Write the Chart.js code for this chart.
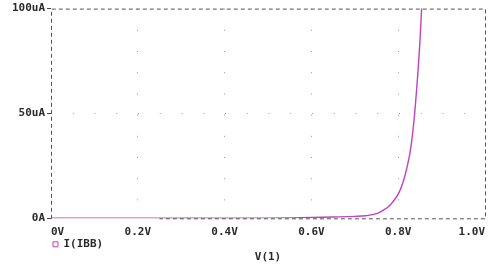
<!DOCTYPE html>
<html>
<head>
<meta charset="utf-8">
<script src="https://cdn.jsdelivr.net/npm/chart.js@4"></script>
<style>
  body { margin: 0; background: #fff; }
  #wrap { width: 492px; height: 269px; position: relative; }
</style>
</head>
<body>
<div id="wrap"><canvas id="diodeChart"></canvas></div>
<script>
// courbe : V(1) en volts, I(IBB) en uA
const voltage = [0, 0.1, 0.2, 0.3, 0.4, 0.5, 0.55, 0.6, 0.65, 0.7, 0.725, 0.75, 0.765, 0.78, 0.79, 0.8, 0.81, 0.82, 0.83, 0.84, 0.85, 0.86];
const current = [0, 0, 0, 0, 0.03, 0.1, 0.2, 0.35, 0.6, 0.9, 1.2, 2.2, 3.8, 6, 8.5, 11.5, 16.5, 24, 35, 55, 84, 125];

const xTicks = [0, 0.2, 0.4, 0.6, 0.8, 1.0];
const xLabels = ['0V', '0.2V', '0.4V', '0.6V', '0.8V', '1.0V'];
const yTicks = [0, 50, 100];
const yLabels = ['0A', '50uA', '100uA'];

const seriesName = 'I(IBB)';
const axisName = 'V(1)';

const monoFont = { family: "'DejaVu Sans Mono', 'Liberation Mono', monospace", size: 11, weight: 'bold' };
const textColor = '#2a2a2a';
const curveColor = '#c040c0';

// cadre en pointillés autour de la zone du graphique
const dashedFrame = {
    id: 'dashedFrame',
    afterDatasetsDraw(chart) {
        const { ctx, chartArea: a, scales } = chart;
        ctx.save();
        ctx.strokeStyle = '#555';
        ctx.lineWidth = 1;
        ctx.setLineDash([4, 3]);
        ctx.beginPath();
        ctx.moveTo(a.left + 0.5, a.bottom + 0.5);
        ctx.lineTo(a.left + 0.5, a.top + 0.5);
        ctx.lineTo(a.right + 0.5, a.top + 0.5);
        ctx.lineTo(a.right + 0.5, a.bottom + 0.5);
        ctx.lineTo(scales.x.getPixelForValue(0.25), a.bottom + 0.5);
        ctx.stroke();
        ctx.restore();
    }
};

const ctx = document.getElementById('diodeChart').getContext('2d');
const diodeChart = new Chart(ctx, {
    type: 'line',
    data: {
        datasets: [{
            label: seriesName,
            data: voltage.map((v, i) => ({ x: v, y: current[i] })),
            borderColor: curveColor,
            borderWidth: 1.4,
            backgroundColor: curveColor,
            pointRadius: 0,
            pointStyle: 'rect',
            pointBackgroundColor: '#fff',
            pointBorderColor: curveColor,
            pointBorderWidth: 1,
            cubicInterpolationMode: 'monotone',
            fill: false
        }]
    },
    options: {
        responsive: true,
        maintainAspectRatio: false,
        animation: false,
        layout: { padding: { top: 6, right: 5, bottom: 5, left: 0 } },
        scales: {
            x: {
                type: 'linear',
                min: 0,
                max: 1,
                afterBuildTicks: s => { s.ticks = xTicks.map(v => ({ value: v })); },
                afterFit: s => { s.height = 18.5; },
                ticks: {
                    align: 'inner',
                    padding: 7,
                    color: textColor,
                    font: monoFont,
                    callback: (v) => xLabels[xTicks.indexOf(v)]
                },
                grid: {
                    drawTicks: false,
                    color: c => (c.tick && c.tick.value > 0 && c.tick.value < 1) ? '#9a9a9a' : 'transparent',
                    lineWidth: 1
                },
                border: { display: false, dash: [1, 20.2] }
            },
            y: {
                min: 0,
                max: 100,
                afterBuildTicks: s => { s.ticks = yTicks.map(v => ({ value: v })); },
                afterFit: s => { s.width = 51; },
                ticks: {
                    padding: 2,
                    color: textColor,
                    font: monoFont,
                    callback: (v) => yLabels[yTicks.indexOf(v)]
                },
                grid: {
                    drawTicks: true,
                    tickLength: 4,
                    tickColor: '#444',
                    color: c => (c.tick && c.tick.value === 50) ? '#9a9a9a' : 'transparent',
                    lineWidth: 1
                },
                border: { display: false, dash: [1, 20.75] }
            }
        },
        plugins: {
            legend: {
                position: 'bottom',
                align: 'start',
                fullSize: false,
                maxHeight: 14,
                labels: {
                    usePointStyle: true,
                    boxWidth: 5,
                    boxHeight: 5,
                    padding: 2,
                    color: textColor,
                    font: monoFont
                }
            },
            title: {
                display: true,
                position: 'bottom',
                fullSize: false,
                text: axisName,
                color: textColor,
                font: monoFont,
                padding: { top: 0, bottom: 0 }
            },
            tooltip: { enabled: false }
        }
    },
    plugins: [dashedFrame]
});
</script>
</body>
</html>
